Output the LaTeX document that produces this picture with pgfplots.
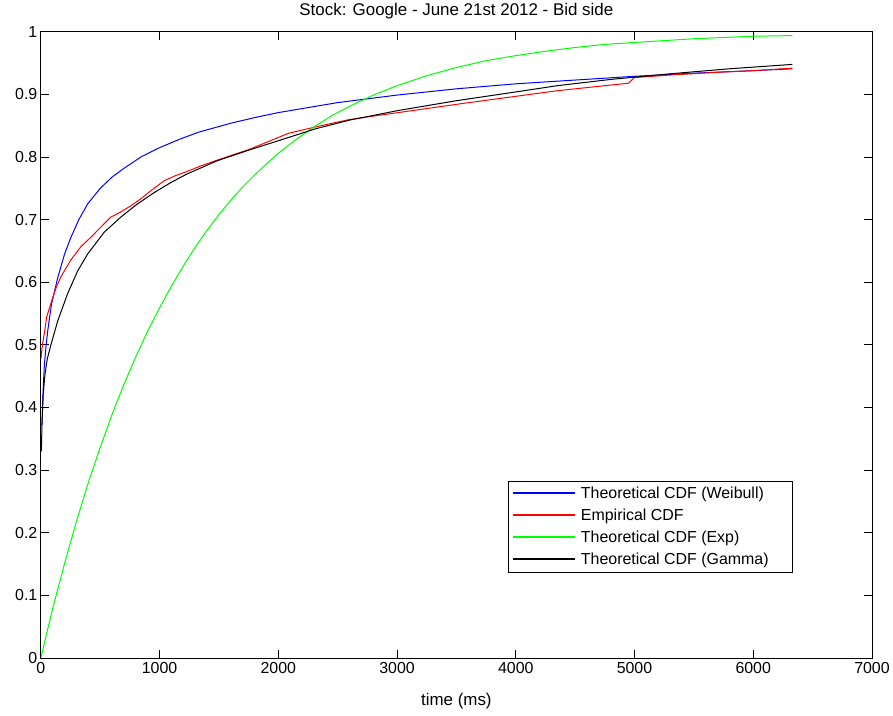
\documentclass[border=0pt]{standalone}
\usepackage{fontspec}
\setmainfont{Liberation Sans}
\usepackage{pgfplots}
\pgfplotsset{compat=1.18}
\usepackage{pgfplotstable}
\definecolor{mblue}{RGB}{0,0,255}
\definecolor{mred}{RGB}{255,0,0}
\definecolor{mgreen}{RGB}{0,255,0}
\newcommand{\legline}[1]{{\color{#1}\rule[0.3em]{62pt}{1.5pt}}\hspace*{6pt}}

\pgfplotstableread{
x y
10 0.372
20 0.430
30 0.468
45 0.500
60 0.525
90 0.565
142 0.607
200 0.645
254 0.672
320 0.700
394 0.725
500 0.750
600 0.768
700 0.782
850 0.801
1000 0.815
1176 0.829
1333 0.840
1600 0.854
1800 0.863
2000 0.871
2250 0.879
2500 0.887
3000 0.899
3500 0.909
4000 0.917
4500 0.923
5000 0.929
5500 0.934
6000 0.938
6330 0.941
}\weibull

\pgfplotstableread{
x y
2 0.478
10 0.495
20 0.508
31 0.520
50 0.545
86 0.567
130 0.592
170 0.609
254 0.636
338 0.657
422 0.672
505 0.688
589 0.704
670 0.712
757 0.722
840 0.733
925 0.746
1037 0.762
1130 0.770
1232 0.777
1350 0.786
1484 0.795
1752 0.812
2087 0.838
2311 0.848
2600 0.860
3009 0.871
3568 0.886
4000 0.897
4350 0.906
4700 0.913
4950 0.918
5000 0.927
5300 0.931
5660 0.935
6000 0.938
6330 0.942
}\empirical

\pgfplotstableread{
x y
0 0.000
100 0.079
200 0.151
300 0.218
400 0.280
500 0.336
600 0.389
700 0.437
800 0.481
900 0.522
1000 0.559
1100 0.594
1200 0.626
1300 0.656
1400 0.683
1500 0.708
1600 0.731
1700 0.752
1800 0.771
1900 0.789
2000 0.806
2150 0.828
2300 0.848
2450 0.866
2600 0.881
2800 0.899
3000 0.914
3250 0.930
3500 0.943
3750 0.954
4000 0.962
4250 0.969
4500 0.975
4750 0.980
5000 0.983
5500 0.989
6000 0.993
6330 0.994
}\expo

\pgfplotstableread{
x y
5 0.330
10 0.375
20 0.420
35 0.453
55 0.478
85 0.500
142 0.538
226 0.582
310 0.618
394 0.645
534 0.680
673 0.704
813 0.725
953 0.743
1092 0.759
1232 0.773
1484 0.794
1750 0.811
2000 0.826
2311 0.845
2600 0.859
3000 0.874
3500 0.890
4000 0.904
4350 0.914
4800 0.924
5300 0.933
5800 0.941
6330 0.948
}\gammacdf

\begin{document}
\begin{tikzpicture}
\begin{axis}[
  name=ax,
  scale only axis,
  width=835pt, height=629pt,
  xmin=0, xmax=7000, ymin=0, ymax=1,
  xtick={0,1000,...,7000},
  ytick={0,0.1,...,1},
  yticklabels={0,0.1,0.2,0.3,0.4,0.5,0.6,0.7,0.8,0.9,1},
  scaled x ticks=false,
  /pgf/number format/1000 sep={},
  /pgf/number format/assume math mode=true,
  tick align=inside,
  tick pos=both,
  major tick length=8pt,
  tick style={black, line width=0.8pt},
  axis line style={black, line width=0.8pt},
  ticklabel style={font=\fontsize{16}{18}\selectfont},
  xticklabel style={yshift=-1pt},
  title={Stock: Google - June 21st 2012 - Bid side},
  title style={font=\fontsize{17}{19}\selectfont, at={(0.5,1)}, anchor=south, yshift=3pt},
  xlabel={time (ms)},
  xlabel style={font=\fontsize{17}{19}\selectfont, at={(axis description cs:0.5,0)}, anchor=north, yshift=-32pt},
  legend style={at={(0.562,0.283)}, anchor=north west, draw=black, line width=0.8pt,
    font=\fontsize{16}{18}\selectfont, row sep=5pt, inner xsep=3pt, inner ysep=4pt,
    column sep=0pt, cells={anchor=west}},
  legend cell align=left,
  legend image code/.code={},
]
\addplot[color=mblue, line width=1pt, mark=none] table[x=x,y=y] {\weibull};
\addlegendentry{\legline{mblue}Theoretical CDF (Weibull)\hspace*{24pt}}
\addplot[color=mred, line width=1pt, mark=none] table[x=x,y=y] {\empirical};
\addlegendentry{\legline{mred}Empirical CDF}
\addplot[color=mgreen, line width=1pt, mark=none] table[x=x,y=y] {\expo};
\addlegendentry{\legline{mgreen}Theoretical CDF (Exp)}
\addplot[color=black, line width=1pt, mark=none] table[x=x,y=y] {\gammacdf};
\addlegendentry{\legline{black}Theoretical CDF (Gamma)}
\end{axis}
\path ([shift={(-41pt,-58pt)}]ax.south west) rectangle ([shift={(17pt,32pt)}]ax.north east);
\end{tikzpicture}
\end{document}
